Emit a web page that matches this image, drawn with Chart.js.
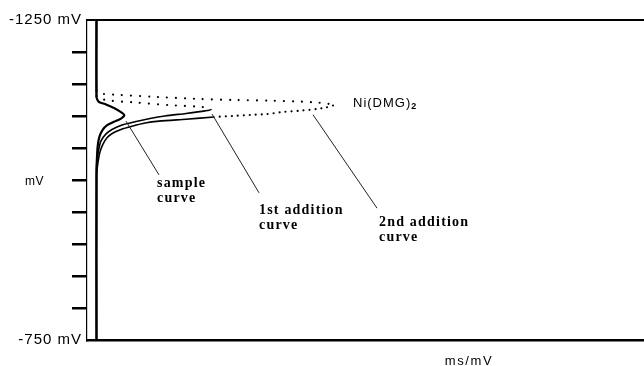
<!DOCTYPE html>
<html>
<head>
<meta charset="utf-8">
<script src="https://cdn.jsdelivr.net/npm/chart.js@4.4.1/dist/chart.umd.min.js"></script>
<style>
  body { margin: 0; background: #fff; }
  canvas { display: block; }
</style>
</head>
<body>
<canvas id="polarogram" width="644" height="366"></canvas>
<script>
// potential axis (mV), -1250 at the top
const yMin = -1250;
const yMax = -750;
const yStep = 50;
const yTickValues = [-1250, -1000, -750];
const yTickLabels = ["-1250 mV", "mV", "-750 mV"];
const xTitle = "ms/mV";

// current axis (arbitrary units)
const xMin = 0;
const xMax = 557;

// sample curve
const sampleX = [9.5, 9.5, 10.5, 12, 19, 27, 34, 37.3, 34, 27, 20.5, 15.5, 12.3, 10.7, 10, 9.5, 9.5];
const sampleY = [-1250, -1130, -1125, -1122, -1118, -1112.5, -1106, -1101, -1096, -1091, -1086, -1078, -1067, -1053, -1036, -1016, -750];

// 1st addition curve
const add1X = [9.5, 9.5, 10.5, 23, 49, 82, 112, 120, 124, 118, 99, 78, 63, 48, 35, 25, 19, 14, 12, 10.5, 9.5, 9.5];
const add1Y = [-1250, -1131, -1128, -1124, -1121, -1117, -1114.5, -1113, -1110, -1108, -1104, -1100, -1096, -1091, -1086, -1079, -1072, -1061, -1050, -1036, -1016, -750];

// 2nd addition curve
const add2X = [9.5, 9.5, 10.7, 32, 66, 112, 148, 183, 210, 230, 240, 246, 239, 230, 213, 196, 180, 163, 146, 127, 99, 72, 58, 45, 34, 26, 20, 16, 13, 11, 9.5, 9.5];
const add2Y = [-1250, -1139, -1135.5, -1133, -1130, -1126.6, -1125, -1124, -1122.7, -1121, -1119.5, -1116.4, -1113.3, -1111, -1108.3, -1106.3, -1103, -1101.6, -1100, -1098.4, -1095, -1092, -1089, -1084, -1079, -1073.4, -1066, -1056, -1044, -1028, -1006, -750];

// curve labels with their pointer lines (in axis units)
const notes = [
  { lines: ["sample", "curve"], at: [70, -994], from: [39, -1092], to: [72, -1008] },
  { lines: ["1st addition", "curve"], at: [172, -952], from: [125, -1103], to: [172, -980] },
  { lines: ["2nd addition", "curve"], at: [292, -934], from: [226, -1102], to: [290, -956] }
];
const peakName = "Ni(DMG)";
const peakSub = "2";

function pts(xs, ys) {
  return xs.map((v, i) => ({ x: v, y: ys[i] }));
}

// dotted where the recorder points are sparse
function dotted(riseEnd, dotEnd) {
  return {
    borderDash: (c) => {
      const i = c.p0DataIndex;
      if (i >= 1 && i < riseEnd) return [0, 9];
      if (i >= riseEnd && i < dotEnd) return [0, 6];
      return undefined;
    },
    borderWidth: (c) => {
      const i = c.p0DataIndex;
      return i >= 1 && i < Math.max(riseEnd, dotEnd) ? 2.2 : 1.6;
    }
  };
}

const textPlugin = {
  id: "texts",
  afterDraw(chart) {
    const { ctx } = chart;
    const x = chart.scales.x;
    const y = chart.scales.y;
    ctx.save();
    ctx.fillStyle = "#000";
    ctx.textBaseline = "middle";

    // y axis labels
    ctx.textAlign = "right";
    for (let i = 0; i < yTickValues.length; i++) {
      const py = y.getPixelForValue(yTickValues[i]);
      if (yTickLabels[i] === "mV") {
        ctx.font = "12px 'Liberation Sans'";
        ctx.letterSpacing = "0.5px";
        ctx.fillText(yTickLabels[i], 44, py + 2);
      } else {
        ctx.font = "15px 'Liberation Sans'";
        ctx.letterSpacing = "1px";
        ctx.fillText(yTickLabels[i], 82, py);
      }
    }

    // x title
    ctx.textAlign = "center";
    ctx.font = "13px 'Liberation Sans'";
    ctx.letterSpacing = "1.6px";
    ctx.fillText(xTitle, 469, chart.chartArea.bottom + 21);

    // peak name
    ctx.textAlign = "left";
    ctx.font = "13px 'Liberation Sans'";
    ctx.letterSpacing = "1px";
    const nx = x.getPixelForValue(266);
    const ny = y.getPixelForValue(-1120);
    ctx.fillText(peakName, nx, ny);
    const w = ctx.measureText(peakName).width;
    ctx.font = "bold 9px 'Liberation Sans'";
    ctx.letterSpacing = "0px";
    ctx.fillText(peakSub, nx + w, ny + 3);

    // pointer lines and curve names
    ctx.strokeStyle = "#222";
    ctx.lineWidth = 1;
    ctx.font = "bold 14px 'Liberation Serif'";
    ctx.letterSpacing = "1.2px";
    notes.forEach((n) => {
      ctx.beginPath();
      ctx.moveTo(x.getPixelForValue(n.from[0]), y.getPixelForValue(n.from[1]));
      ctx.lineTo(x.getPixelForValue(n.to[0]), y.getPixelForValue(n.to[1]));
      ctx.stroke();
      const lx = x.getPixelForValue(n.at[0]);
      const ly = y.getPixelForValue(n.at[1]);
      n.lines.forEach((t, k) => ctx.fillText(t, lx, ly + k * 15));
    });
    ctx.restore();
  }
};

new Chart(document.getElementById("polarogram"), {
  type: "line",
  data: {
    datasets: [
      {
        label: "sample curve",
        data: pts(sampleX, sampleY),
        borderColor: "#000",
        borderWidth: 2.2,
        tension: 0.25
      },
      {
        label: "1st addition curve",
        data: pts(add1X, add1Y),
        borderColor: "#000",
        borderWidth: 1.6,
        borderCapStyle: "round",
        tension: 0.25,
        segment: dotted(8, 8)
      },
      {
        label: "2nd addition curve",
        data: pts(add2X, add2Y),
        borderColor: "#000",
        borderWidth: 1.6,
        borderCapStyle: "round",
        tension: 0.25,
        segment: dotted(11, 19)
      }
    ]
  },
  options: {
    responsive: false,
    animation: false,
    layout: { padding: { left: 72, top: 20, right: 0, bottom: 26 } },
    elements: { point: { radius: 0 } },
    plugins: { legend: { display: false }, tooltip: { enabled: false } },
    scales: {
      x: {
        type: "linear",
        position: "bottom",
        min: xMin,
        max: xMax,
        ticks: { display: false },
        grid: { display: false, drawTicks: false },
        border: { display: true, color: "#000", width: 2.5 }
      },
      x2: {
        type: "linear",
        position: "top",
        min: xMin,
        max: xMax,
        ticks: { display: false },
        grid: { display: false, drawTicks: false },
        border: { display: true, color: "#000", width: 2 }
      },
      y: {
        type: "linear",
        reverse: true,
        min: yMin,
        max: yMax,
        ticks: { display: false, stepSize: yStep },
        grid: {
          drawOnChartArea: false,
          drawTicks: true,
          tickLength: 15,
          lineWidth: 2.5,
          color: (c) => (c.index === 0 || c.index === 10 ? "rgba(0,0,0,0)" : "#000")
        },
        border: { display: true, color: "#000", width: 1.2 }
      }
    }
  },
  plugins: [textPlugin]
});
</script>
</body>
</html>
